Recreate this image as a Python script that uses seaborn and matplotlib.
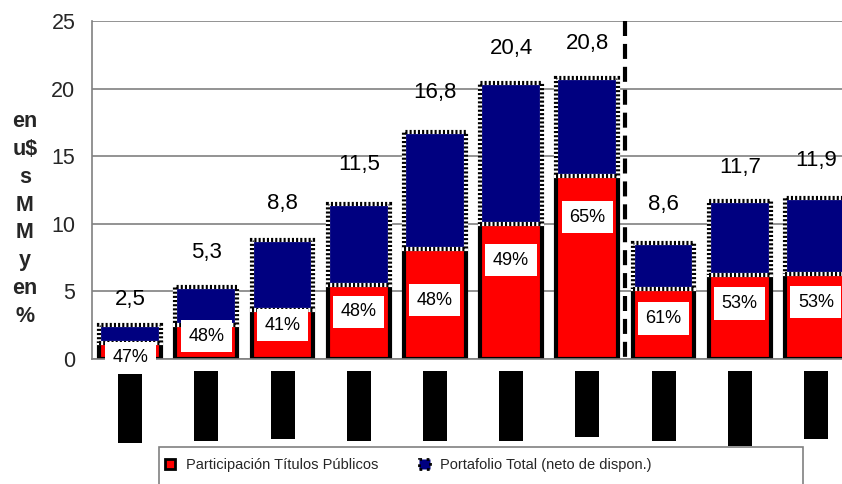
import matplotlib
matplotlib.use("Agg")
import matplotlib.pyplot as plt
from matplotlib.patches import Patch, Rectangle
import numpy as np
import pandas as pd
import seaborn as sns

sns.set_style("white")
plt.rcParams['font.family'] = ['Liberation Sans', 'DejaVu Sans']

# data (category labels are blacked out in the original)
periods = ['P1', 'P2', 'P3', 'P4', 'P5', 'P6', 'P7', 'P8', 'P9', 'P10']
total = [2.5, 5.3, 8.8, 11.5, 16.8, 20.4, 20.8, 8.6, 11.7, 11.9]
titulos = [1.2, 2.5, 3.6, 5.5, 8.1, 10.0, 13.5, 5.2, 6.2, 6.3]
pct = [47, 48, 41, 48, 48, 49, 65, 61, 53, 53]

# where the labels were placed by hand in the original (data units)
total_label_y = [4.4, 7.9, 11.5, 14.35, 19.7, 23.0, 23.3, 11.4, 14.2, 14.7]
pct_label_y = [0.1, 1.7, 2.5, 3.5, 4.35, 7.3, 10.5, 3.0, 4.1, 4.2]
# heights (px) of the blacked-out tick labels
mask_px = [72, 70, 68, 70, 70, 70, 66, 70, 75, 68]

RED = '#FF0000'
NAVY = '#000080'
GRID = '#808080'

df = pd.DataFrame({'periodo': periods, 'total': total, 'titulos': titulos})
df['resto'] = df['total'] - df['titulos']

W, H = 842, 484
fig = plt.figure(figsize=(W / 100, H / 100), dpi=100)
ax = fig.add_axes([92 / W, 1 - 359 / H, 762 / W, 338 / H])

# red part (titulos publicos)
sns.barplot(data=df, x='periodo', y='titulos', color=RED, saturation=1,
            width=0.81, edgecolor='black', linewidth=3, errorbar=None, ax=ax)
n_red = len(ax.patches)
# blue part stacked on top (rest of the portfolio)
sns.barplot(data=df, x='periodo', y='resto', bottom=df['titulos'], color=NAVY,
            saturation=1, width=0.81, edgecolor='white', linewidth=3,
            errorbar=None, ax=ax)

# checkered border of the blue bars
for p in list(ax.patches)[n_red:]:
    ax.add_patch(Rectangle(p.get_xy(), p.get_width(), p.get_height(),
                           fill=False, edgecolor='black', linewidth=3,
                           linestyle=(0, (0.5, 0.5)), zorder=p.get_zorder() + 0.1))

ax.set_xlim(-0.5, 9.5)
ax.set_ylim(0, 25)
ax.set_yticks(np.arange(0, 26, 5))
ax.set_xticks(np.arange(-0.5, 10, 1))
ax.set_xticklabels([])
ax.set_xlabel('')
ax.set_ylabel('')
ax.tick_params(axis='y', labelsize=15.5, length=4, color=GRID, pad=8, direction='out')
ax.tick_params(axis='x', length=4, color=GRID, direction='out')
ax.set_axisbelow(True)
ax.yaxis.grid(True, color=GRID, linewidth=1.2)
for side in ['top', 'right']:
    ax.spines[side].set_visible(False)
for side in ['left', 'bottom']:
    ax.spines[side].set_color(GRID)
    ax.spines[side].set_linewidth(1.2)

# total labels above the bars
for i, v in enumerate(total):
    ax.text(i, total_label_y[i], f'{v:.1f}'.replace('.', ','), ha='center',
            va='center', fontsize=16, color='black')

# share labels in white boxes
for i, v in enumerate(pct):
    ax.text(i, pct_label_y[i], f'{v}%', ha='center', va='center', fontsize=13,
            color='black', zorder=5,
            bbox=dict(boxstyle='square,pad=0.42', facecolor='white', edgecolor='none'))

# dashed separator
ax.axvline(6.5, ymin=1.0, ymax=-0.01, color='black', linewidth=3,
           linestyle=(0, (3.6, 1.9)), clip_on=False, zorder=6)

# blacked-out category labels
top = (359 - 370.7) / 338
for i, h in enumerate(mask_px):
    ax.add_patch(Rectangle((i - 0.157, top - h / 338), 0.315, h / 338,
                           transform=ax.get_xaxis_transform(), clip_on=False,
                           facecolor='black', edgecolor='none'))

fig.text(25 / W, 1 - 219 / H, 'en\nu$\ns\nM\nM\ny\nen\n%', ha='center', va='center',
         fontsize=15.5, fontweight='bold', linespacing=1.42)

# legend
handles = [Patch(facecolor=RED, edgecolor='black', linewidth=2),
           Patch(facecolor=NAVY, edgecolor='black', linewidth=2, linestyle=':')]
labels = ['Participación Títulos Públicos', 'Portafolio Total (neto de dispon.)']
fig.legend(handles, labels, loc='center left', bbox_to_anchor=(165 / W, 1 - 465 / H),
           ncol=2, frameon=False, fontsize=10.5, handlelength=0.7, handleheight=0.7,
           handletextpad=0.75, columnspacing=2.8, borderpad=0, borderaxespad=0)
fig.add_artist(Rectangle((159 / W, -0.05), (803 - 159) / W, 0.05 + (484 - 447) / H,
                         transform=fig.transFigure, fill=False, edgecolor=GRID,
                         linewidth=1.2))

fig.savefig('out.png', dpi=100)
